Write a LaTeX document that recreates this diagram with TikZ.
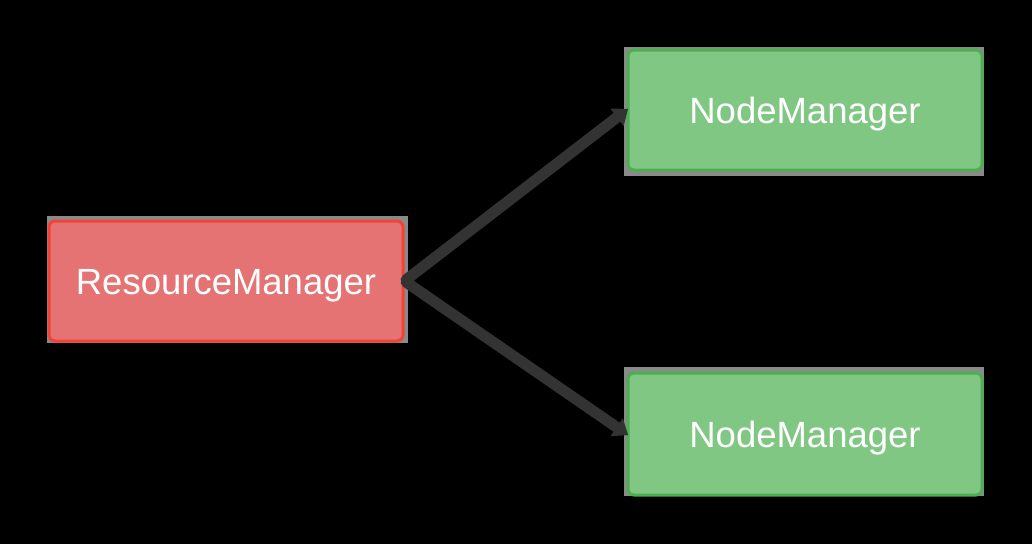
\documentclass[tikz,border=0pt]{standalone}
\usepackage{fontspec}
\setmainfont{Liberation Sans}
\usetikzlibrary{arrows.meta}
\definecolor{bgblack}{HTML}{000000}
\definecolor{shade}{HTML}{8A8A8A}
\definecolor{redfill}{HTML}{E57373}
\definecolor{redline}{HTML}{F44336}
\definecolor{greenfill}{HTML}{81C784}
\definecolor{greenline}{HTML}{4CAF50}
\definecolor{arrowgray}{HTML}{333333}
\tikzset{
  outerbox/.style={fill=shade, draw=none, inner sep=0pt, minimum width=#1},
  boxlabel/.style={rounded corners=6pt, line width=3pt, inner sep=0pt,
     text=white, font=\fontsize{36.5pt}{36.5pt}\selectfont, text height=26pt, text depth=0pt,
     minimum width=354pt},
  redbox/.style={boxlabel, fill=redfill, draw=redline, minimum height=120pt},
  greenbox/.style={boxlabel, fill=greenfill, draw=greenline},
  conn/.style={draw=arrowgray, line width=11pt, line cap=round, -{Triangle[length=14pt,width=21pt]}, shorten >=-2pt, shorten <=2pt}
}
\begin{document}
\begin{tikzpicture}[x=1pt,y=-1pt]
\fill[bgblack] (0,0) rectangle (1032,544);
\useasboundingbox (0,0) rectangle (1032,544);
% gray backing rectangles
\node[outerbox=361pt, minimum height=127pt] (rmo) at (227.5,279.5) {};
\node[outerbox=360pt, minimum height=129pt] (nmao) at (804,111.5) {};
\node[outerbox=360pt, minimum height=129pt] (nmbo) at (804,431.5) {};
% boxes
\node[redbox] (rm) at (226,281) {ResourceManager};
\node[greenbox, minimum height=120pt] (nma) at (805,110) {NodeManager};
\node[greenbox, minimum height=122pt] (nmb) at (805,434) {NodeManager};
% connectors
\draw[conn] (rm.east) -- (nma.west);
\draw[conn] (rm.east) -- (nmb.west);
\end{tikzpicture}
\end{document}
